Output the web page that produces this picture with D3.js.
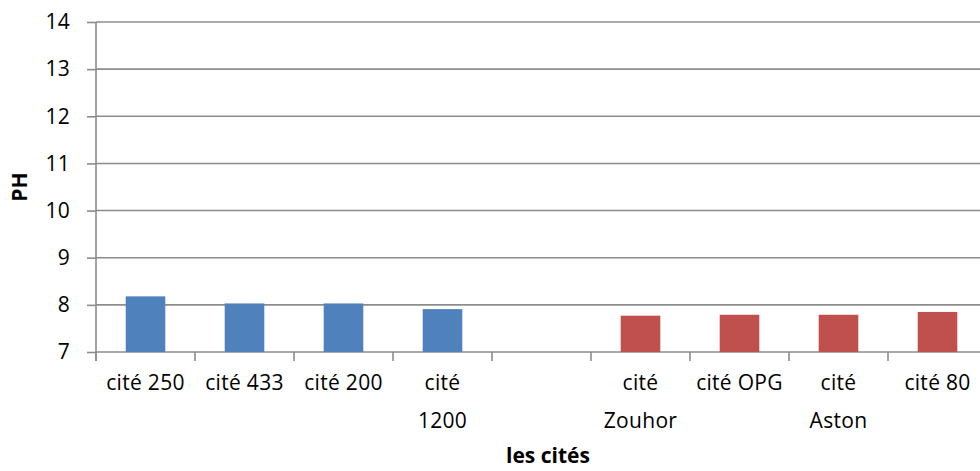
<!DOCTYPE html>
<html>
<head>
<meta charset="utf-8">
<script src="https://cdn.jsdelivr.net/npm/d3@7"></script>
<style>
  body { margin: 0; background: #fff; }
  text { font-family: "Open Sans", sans-serif; fill: #000; }
</style>
</head>
<body>
<div id="chart"></div>
<script>
// categories along x (the 5th slot is left empty in the original)
var categories = ["cité 250", "cité 433", "cité 200", "cité 1200", "", "cité Zouhor", "cité OPG", "cité Aston", "cité 80"];
// first group of cités (blue) and second group (red)
var series1 = [8.18, 8.03, 8.03, 7.91, null, null, null, null, null];
var series2 = [null, null, null, null, null, 7.77, 7.79, 7.79, 7.85];
var yTicks = [7, 8, 9, 10, 11, 12, 13, 14];
var colors = ["#4F81BD", "#C0504D"];

var svgWidth = 980, svgHeight = 471;
var margin = {left: 96, top: 22, right: -7, bottom: 119};
var fontSize = 21;

var svg = d3.select("#chart").append("svg")
  .attr("width", svgWidth)
  .attr("height", svgHeight);

var x = d3.scaleBand()
  .domain(d3.range(categories.length))
  .range([margin.left, svgWidth - margin.right])
  .paddingInner(0).paddingOuter(0);

var y = d3.scaleLinear()
  .domain([7, 14])
  .range([svgHeight - margin.bottom, margin.top]);

// gridlines
svg.append("g").selectAll("line")
  .data(yTicks)
  .enter().append("line")
  .attr("x1", margin.left)
  .attr("x2", svgWidth - margin.right)
  .attr("y1", function(d){ return y(d); })
  .attr("y2", function(d){ return y(d); })
  .attr("stroke", "#8c8c8c")
  .attr("stroke-width", 1.6);

// y axis
var yAxis = d3.axisLeft(y).tickValues(yTicks).tickSize(9).tickPadding(17).tickFormat(d3.format("d"));
var gy = svg.append("g").attr("transform", "translate(" + margin.left + ",0)").call(yAxis);
gy.select(".domain").remove();
gy.selectAll(".tick line").attr("stroke", "#8c8c8c").attr("stroke-width", 1.6);
gy.selectAll(".tick text").attr("font-size", fontSize).attr("letter-spacing", 0.3);
svg.append("line")
  .attr("x1", margin.left).attr("x2", margin.left)
  .attr("y1", y(14)).attr("y2", y(7) + 9)
  .attr("stroke", "#8c8c8c").attr("stroke-width", 1.6);

// x axis ticks at slot boundaries
var bounds = d3.range(categories.length + 1).map(function(i){ return margin.left + i * x.step(); });
svg.append("g").selectAll("line")
  .data(bounds)
  .enter().append("line")
  .attr("x1", function(d){ return d; })
  .attr("x2", function(d){ return d; })
  .attr("y1", y(7))
  .attr("y2", y(7) + 9)
  .attr("stroke", "#8c8c8c")
  .attr("stroke-width", 1.6);

// bars
var barW = x.bandwidth() * 0.4;
[series1, series2].forEach(function(s, si){
  svg.append("g").selectAll("rect")
    .data(s.map(function(v, i){ return {i: i, v: v}; }).filter(function(d){ return d.v != null; }))
    .enter().append("rect")
    .attr("x", function(d){ return x(d.i) + (x.bandwidth() - barW) / 2; })
    .attr("y", function(d){ return y(d.v); })
    .attr("width", barW)
    .attr("height", function(d){ return y(7) - y(d.v); })
    .attr("fill", colors[si]);
});

// category labels, wrapped when too wide for a slot
var lab = svg.append("g").selectAll("text")
  .data(categories)
  .enter().append("text")
  .attr("text-anchor", "middle")
  .attr("font-size", fontSize)
  .attr("letter-spacing", 0.3)
  .attr("x", function(d, i){ return x(i) + x.bandwidth() / 2; })
  .attr("y", y(7) + 38);
lab.each(function(d){
  var t = d3.select(this);
  t.text(d);
  if (this.getComputedTextLength() > 88) {
    var words = d.split(" ");
    t.text(null);
    words.forEach(function(w, k){
      t.append("tspan")
        .attr("x", t.attr("x"))
        .attr("dy", k == 0 ? 0 : 38)
        .text(w);
    });
  }
});

// axis titles
svg.append("text")
  .attr("x", 548).attr("y", 463)
  .attr("text-anchor", "middle")
  .attr("font-size", fontSize).attr("font-weight", "bold")
  .text("les cités");

svg.append("text")
  .attr("transform", "translate(27," + ((y(7) + y(14)) / 2) + ") rotate(-90)")
  .attr("text-anchor", "middle")
  .attr("font-size", fontSize).attr("font-weight", "bold")
  .text("PH");
</script>
</body>
</html>
